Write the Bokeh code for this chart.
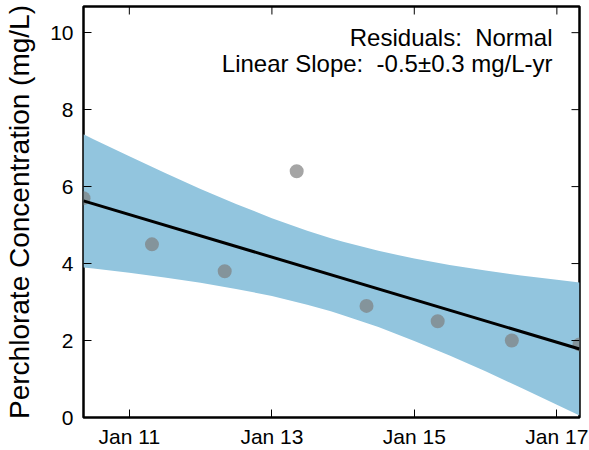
import pandas as pd
from bokeh.plotting import figure
from bokeh.models import (Range1d, FixedTicker, DatetimeTickFormatter, Label,
                          ColumnDataSource)
from bokeh.embed import file_html
from bokeh.resources import INLINE

# ---- data ----
point_dates = ["2010-05-11", "2011-04-27", "2012-05-04", "2013-05-08",
               "2014-05-01", "2015-05-01", "2016-05-15", "2017-04-27"]
point_values = [5.7, 4.5, 3.8, 6.4, 2.9, 2.5, 2.0, 1.9]

fit_dates = ["2010-05-11", "2017-04-27"]
fit_values = [5.63, 1.78]

band_dates = ["2010-05-11", "2010-07-01", "2011-01-01", "2011-07-01", "2012-01-01",
              "2012-07-01", "2013-01-01", "2013-07-01", "2013-10-30", "2014-01-01",
              "2014-07-01", "2015-01-01", "2015-07-01", "2016-01-01", "2016-07-01",
              "2017-01-01", "2017-04-27"]
band_upper = [7.36, 7.23, 6.79, 6.36, 5.94, 5.55, 5.18, 4.85, 4.66, 4.57,
              4.33, 4.13, 3.96, 3.82, 3.69, 3.58, 3.51]
band_lower = [3.90, 3.87, 3.76, 3.64, 3.50, 3.34, 3.16, 2.93, 2.76, 2.66,
              2.35, 1.99, 1.61, 1.20, 0.77, 0.33, 0.05]

x_tick_dates = ["2011-01-01", "2013-01-01", "2015-01-01", "2017-01-01"]
y_ticks = [0, 2, 4, 6, 8, 10]
y_max = 10.68

annotation_lines = ["Residuals:\u00a0 Normal", "Linear Slope:\u00a0 -0.5\u00b10.3 mg/L-yr"]
y_label = "Perchlorate Concentration (mg/L)"

# ---- layout constants ----
FONT = "Liberation Sans"
W, H = 589, 450
BL, BR, BT, BB = 83, 10, 6, 33
FRAME_W = W - BL - BR
FRAME_H = H - BT - BB
TICK = 8

pts = ColumnDataSource(dict(x=pd.to_datetime(point_dates), y=point_values))
fit = ColumnDataSource(dict(x=pd.to_datetime(fit_dates), y=fit_values))
band = ColumnDataSource(dict(x=pd.to_datetime(band_dates), lo=band_lower, hi=band_upper))

x_start = pd.Timestamp(point_dates[0])
x_end = pd.Timestamp(point_dates[-1])
x_ticks_ms = [pd.Timestamp(d).value // 10**6 for d in x_tick_dates]

p = figure(width=W, height=H, output_backend="svg", toolbar_location=None,
           x_axis_type="datetime",
           x_range=Range1d(x_start, x_end), y_range=Range1d(0, y_max),
           min_border_left=BL, min_border_right=BR, min_border_top=BT,
           min_border_bottom=BB)
p.grid.visible = False
p.background_fill_color = "white"
p.border_fill_color = "white"
p.outline_line_color = "black"
p.outline_line_width = 2.5

p.varea(x="x", y1="lo", y2="hi", source=band, fill_color="#92c5de", fill_alpha=1.0)
p.scatter(x="x", y="y", source=pts, size=14, fill_color="#7f7f7f", fill_alpha=0.7,
          line_color=None)
p.line(x="x", y="y", source=fit, line_color="black", line_width=3)

# inward ticks on the top and right edges, placed at the axis tick values
tick_dy = y_max * TICK / FRAME_H
tick_dx = (x_end - x_start) * TICK / FRAME_W
top_src = ColumnDataSource(dict(x=pd.to_datetime(x_tick_dates),
                                y0=[y_max] * len(x_tick_dates),
                                y1=[y_max - tick_dy] * len(x_tick_dates)))
p.segment(x0="x", x1="x", y0="y0", y1="y1", source=top_src, line_color="black",
          line_width=1)
right_src = ColumnDataSource(dict(x0=[x_end] * len(y_ticks),
                                  x1=[x_end - tick_dx] * len(y_ticks), y=y_ticks))
p.segment(x0="x0", x1="x1", y0="y", y1="y", source=right_src, line_color="black",
          line_width=1)

fmt = DatetimeTickFormatter(years="%b %y", months="%b %y", days="%b %y",
                            hours="%b %y", minutes="%b %y", seconds="%b %y",
                            milliseconds="%b %y", microseconds="%b %y",
                            hourmin="%b %y", minsec="%b %y")

for ax in (p.xaxis[0], p.yaxis[0]):
    ax.axis_line_color = None
    ax.major_tick_in = TICK
    ax.major_tick_out = 0
    ax.major_tick_line_color = "black"
    ax.major_tick_line_width = 1
    ax.minor_tick_line_color = None
    ax.major_label_text_font = FONT
    ax.major_label_text_font_size = "21px"
    ax.major_label_text_color = "black"

xa = p.xaxis[0]
xa.ticker = FixedTicker(ticks=x_ticks_ms)
xa.formatter = fmt
xa.major_label_standoff = 7

ya = p.yaxis[0]
ya.ticker = FixedTicker(ticks=y_ticks)
ya.major_label_standoff = 10
ya.axis_label = y_label
ya.axis_label_text_font = FONT
ya.axis_label_text_font_size = "28px"
ya.axis_label_text_font_style = "normal"
ya.axis_label_text_color = "black"
ya.axis_label_standoff = 12

for i, txt in enumerate(annotation_lines):
    p.add_layout(Label(x=469, y=380 - 26 * i, x_units="screen", y_units="screen",
                       text=txt, text_align="right", text_baseline="alphabetic",
                       text_font=FONT, text_font_size="24px", text_color="black"))

open("out.html", "w").write(file_html(p, INLINE))
